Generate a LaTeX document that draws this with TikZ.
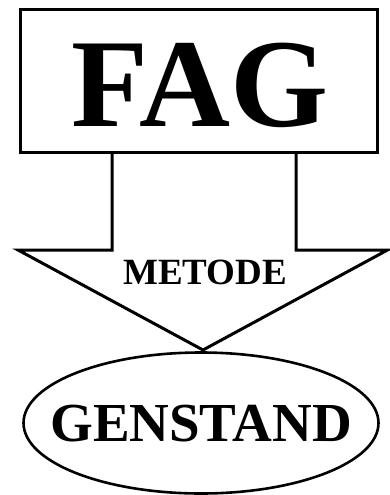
\documentclass[tikz,border=0pt]{standalone}
\usepackage{fontspec}
\setmainfont{Liberation Serif}
\usetikzlibrary{shapes.geometric}
\begin{document}
\begin{tikzpicture}[x=1pt,y=-1pt,
  outl/.style={draw=black,line width=3pt},
  lbl/.style={font=\bfseries,inner sep=0pt}]
\useasboundingbox (0,0) rectangle (389,495);
\node[outl,minimum width=357pt,minimum height=143pt,inner sep=0pt] (fag) at (198.5,81) {};
\node[lbl,font=\bfseries\fontsize{126}{126}\selectfont] (fagtxt) at (200,85) {FAG};
\node[draw=black,line width=2.6pt,ellipse,minimum width=355pt,minimum height=141pt,inner sep=0pt] (gen) at (201,423) {};
\node[lbl,font=\bfseries\fontsize{55}{55}\selectfont] (gentxt) at (201,424) {GENSTAND};
\coordinate (sl) at (112,153);
\coordinate (sr) at (296,153);
\coordinate (tip) at (203,350);
\draw[outl,line join=miter] (sl) -- (112,250) -- (18,250) -- (tip) -- (387.5,250) -- (296,250) -- (sr);
\node[lbl,font=\bfseries\fontsize{37}{37}\selectfont] (met) at (205,272) {METODE};
\end{tikzpicture}
\end{document}
